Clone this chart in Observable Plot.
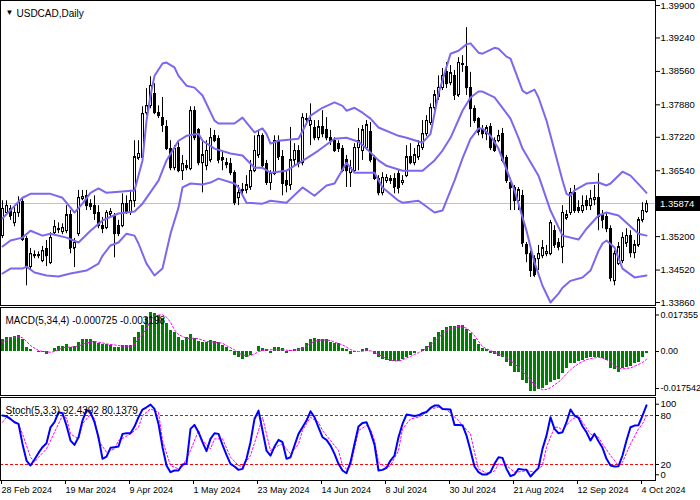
<!DOCTYPE html>
<html><head><meta charset="utf-8">
<script src="https://cdn.jsdelivr.net/npm/d3@7"></script>
<script src="https://cdn.jsdelivr.net/npm/@observablehq/plot@0.6"></script>
<style>
html,body{margin:0;padding:0;background:#fff;}
#chart{position:relative;width:700px;height:500px;overflow:hidden;background:#fff;}
#chart svg{display:block;position:absolute;left:0;}
</style></head><body><div id="chart"></div>
<script>
// ---------- DATA ----------
const symbolTitle = "USDCAD,Daily";
const lastPrice = 1.35874;
const priceTicks = [1.399, 1.3924, 1.3856, 1.3788, 1.3722, 1.3654, 1.352, 1.3452, 1.3386];
const dateIdx = [0,16,32,48,64,80,96,112,128,144,160];
const dateLbl = ["28 Feb 2024","19 Mar 2024","9 Apr 2024","1 May 2024","23 May 2024","14 Jun 2024","8 Jul 2024","30 Jul 2024","21 Aug 2024","12 Sep 2024","4 Oct 2024"];

const open = [1.3522,1.3569,1.3577,1.3548,1.3569,1.3591,1.3516,1.3459,1.3481,1.3481,
1.3471,1.3494,1.3467,1.3528,1.3536,1.3530,1.3532,1.3563,1.3496,1.3526,
1.3597,1.3603,1.3587,1.3583,1.3569,1.3542,1.3538,1.3565,1.3559,1.3542,
1.3542,1.3587,1.3569,1.3593,1.3679,1.3681,1.3772,1.3786,1.3811,1.3772,
1.3762,1.3742,1.3699,1.3660,1.3701,1.3654,1.3664,1.3658,1.3776,1.3736,
1.3670,1.3664,1.3675,1.3725,1.3719,1.3679,1.3670,1.3668,1.3650,1.3599,
1.3612,1.3614,1.3620,1.3654,1.3685,1.3725,1.3668,1.3630,1.3648,1.3715,
1.3681,1.3634,1.3624,1.3675,1.3695,1.3670,1.3760,1.3746,1.3740,1.3721,
1.3742,1.3736,1.3721,1.3715,1.3709,1.3699,1.3675,1.3650,1.3654,1.3701,
1.3695,1.3701,1.3732,1.3679,1.3638,1.3609,1.3634,1.3638,1.3638,1.3648,
1.3630,1.3644,1.3681,1.3670,1.3681,1.3701,1.3729,1.3752,1.3782,1.3803,
1.3823,1.3854,1.3833,1.3847,1.3807,1.3872,1.3864,1.3823,1.3780,1.3760,
1.3736,1.3729,1.3742,1.3715,1.3715,1.3729,1.3679,1.3630,1.3618,1.3593,
1.3603,1.3502,1.3485,1.3475,1.3475,1.3481,1.3485,1.3485,1.3532,1.3506,
1.3498,1.3557,1.3569,1.3609,1.3579,1.3573,1.3593,1.3583,1.3595,1.3599,
1.3563,1.3559,1.3536,1.3430,1.3465,1.3471,1.3506,1.3522,1.3487,1.3502,
1.3553,1.3571];
const high = [1.3593,1.3593,1.3583,1.3579,1.3601,1.3599,1.3520,1.3496,1.3491,1.3489,
1.3500,1.3512,1.3528,1.3553,1.3548,1.3546,1.3583,1.3573,1.3516,1.3614,
1.3614,1.3614,1.3595,1.3603,1.3583,1.3559,1.3573,1.3577,1.3567,1.3553,
1.3607,1.3603,1.3614,1.3715,1.3715,1.3784,1.3821,1.3845,1.3831,1.3786,
1.3803,1.3756,1.3715,1.3705,1.3715,1.3685,1.3675,1.3784,1.3784,1.3740,
1.3715,1.3715,1.3740,1.3736,1.3725,1.3691,1.3679,1.3679,1.3654,1.3624,
1.3628,1.3644,1.3675,1.3725,1.3736,1.3729,1.3675,1.3654,1.3725,1.3725,
1.3695,1.3654,1.3742,1.3709,1.3705,1.3770,1.3770,1.3790,1.3756,1.3756,
1.3776,1.3762,1.3736,1.3721,1.3715,1.3705,1.3685,1.3675,1.3709,1.3740,
1.3746,1.3756,1.3752,1.3685,1.3644,1.3650,1.3646,1.3644,1.3648,1.3654,
1.3644,1.3705,1.3709,1.3699,1.3715,1.3756,1.3766,1.3790,1.3817,1.3847,
1.3862,1.3874,1.3868,1.3858,1.3884,1.3888,1.3945,1.3854,1.3786,1.3762,
1.3746,1.3746,1.3750,1.3721,1.3736,1.3740,1.3685,1.3634,1.3624,1.3620,
1.3614,1.3508,1.3491,1.3481,1.3502,1.3512,1.3502,1.3553,1.3542,1.3516,
1.3583,1.3573,1.3618,1.3624,1.3593,1.3603,1.3603,1.3614,1.3624,1.3648,
1.3573,1.3569,1.3542,1.3491,1.3508,1.3528,1.3536,1.3532,1.3512,1.3559,
1.3589,1.3593];
const low = [1.3516,1.3563,1.3553,1.3540,1.3559,1.3510,1.3420,1.3451,1.3475,1.3475,
1.3467,1.3459,1.3463,1.3522,1.3526,1.3524,1.3526,1.3485,1.3457,1.3520,
1.3593,1.3573,1.3573,1.3553,1.3536,1.3526,1.3534,1.3561,1.3477,1.3520,
1.3538,1.3565,1.3563,1.3579,1.3675,1.3675,1.3766,1.3780,1.3768,1.3760,
1.3732,1.3695,1.3654,1.3654,1.3650,1.3634,1.3654,1.3654,1.3715,1.3664,
1.3609,1.3654,1.3670,1.3711,1.3668,1.3654,1.3658,1.3644,1.3583,1.3583,
1.3601,1.3607,1.3614,1.3650,1.3679,1.3660,1.3624,1.3614,1.3644,1.3675,
1.3603,1.3609,1.3614,1.3664,1.3660,1.3664,1.3746,1.3705,1.3715,1.3715,
1.3721,1.3715,1.3705,1.3691,1.3691,1.3650,1.3620,1.3620,1.3650,1.3654,
1.3675,1.3695,1.3670,1.3634,1.3603,1.3603,1.3628,1.3626,1.3607,1.3607,
1.3624,1.3640,1.3666,1.3664,1.3675,1.3695,1.3723,1.3746,1.3776,1.3797,
1.3817,1.3821,1.3827,1.3797,1.3803,1.3854,1.3807,1.3742,1.3750,1.3725,
1.3719,1.3715,1.3695,1.3691,1.3711,1.3670,1.3628,1.3573,1.3573,1.3573,
1.3498,1.3467,1.3437,1.3437,1.3451,1.3475,1.3479,1.3481,1.3496,1.3491,
1.3465,1.3553,1.3563,1.3567,1.3567,1.3567,1.3573,1.3573,1.3583,1.3532,
1.3536,1.3528,1.3428,1.3420,1.3461,1.3465,1.3498,1.3477,1.3475,1.3498,
1.3548,1.3567];
const close = [1.3577,1.3583,1.3561,1.3569,1.3589,1.3514,1.3459,1.3485,1.3483,1.3482,
1.3491,1.3481,1.3518,1.3540,1.3534,1.3538,1.3563,1.3496,1.3508,1.3599,
1.3601,1.3583,1.3581,1.3567,1.3542,1.3536,1.3569,1.3571,1.3526,1.3526,
1.3587,1.3569,1.3593,1.3681,1.3689,1.3770,1.3786,1.3827,1.3772,1.3766,
1.3746,1.3699,1.3660,1.3699,1.3654,1.3668,1.3660,1.3776,1.3721,1.3670,
1.3685,1.3695,1.3721,1.3715,1.3675,1.3675,1.3666,1.3650,1.3589,1.3609,
1.3614,1.3624,1.3654,1.3695,1.3725,1.3664,1.3630,1.3648,1.3715,1.3681,
1.3628,1.3624,1.3675,1.3695,1.3668,1.3762,1.3758,1.3756,1.3721,1.3742,
1.3729,1.3721,1.3715,1.3695,1.3699,1.3654,1.3654,1.3660,1.3701,1.3715,
1.3736,1.3746,1.3675,1.3638,1.3609,1.3640,1.3640,1.3634,1.3620,1.3618,
1.3634,1.3681,1.3670,1.3685,1.3705,1.3729,1.3756,1.3782,1.3807,1.3823,
1.3847,1.3831,1.3852,1.3807,1.3874,1.3870,1.3823,1.3780,1.3756,1.3732,
1.3729,1.3740,1.3701,1.3695,1.3725,1.3675,1.3634,1.3618,1.3593,1.3614,
1.3506,1.3485,1.3451,1.3441,1.3485,1.3496,1.3489,1.3548,1.3502,1.3498,
1.3569,1.3563,1.3609,1.3573,1.3573,1.3583,1.3583,1.3597,1.3599,1.3559,
1.3553,1.3536,1.3435,1.3485,1.3498,1.3518,1.3522,1.3487,1.3502,1.3553,
1.3573,1.3587];

// Bollinger bands read at selected bars
const upperIdx = [0,5,7,12,15,17,18,20,22,24,26,33,35,36,37,38,40,41,43,44,46,48,50,53,54,58,60,61,63,65,66,67,69,74,77,80,83,85,86,88,90,92,94,99,101,105,107,109,112,114,116,117,119,120,123,124,126,127,130,131,133,134,136,138,140,141,142,143,146,149,151,152,155,157,160,161];
const upperVal = [1.3557,1.3599,1.3607,1.3607,1.3599,1.3579,1.3569,1.3587,1.3609,1.3618,1.3609,1.3614,1.3675,1.3756,1.3807,1.3847,1.3872,1.3874,1.3864,1.3847,1.3827,1.3823,1.3807,1.3756,1.3750,1.3750,1.3762,1.3752,1.3732,1.3740,1.3729,1.3709,1.3715,1.3719,1.3766,1.3782,1.3793,1.3786,1.3776,1.3782,1.3772,1.3760,1.3742,1.3725,1.3721,1.3711,1.3729,1.3811,1.3892,1.3898,1.3911,1.3913,1.3894,1.3892,1.3904,1.3902,1.3886,1.3882,1.3817,1.3811,1.3819,1.3803,1.3756,1.3695,1.3634,1.3607,1.3603,1.3614,1.3628,1.3630,1.3624,1.3628,1.3652,1.3644,1.3618,1.3609];
const midIdx = [0,2,5,7,10,12,16,19,22,25,29,33,35,39,41,44,46,49,50,53,57,60,63,65,67,71,76,79,83,86,89,91,94,96,100,105,108,110,112,115,117,119,120,123,125,127,129,130,134,137,140,144,146,149,151,154,156,159,161];
const midVal = [1.3500,1.3512,1.3518,1.3532,1.3522,1.3526,1.3518,1.3508,1.3532,1.3553,1.3567,1.3571,1.3587,1.3634,1.3675,1.3715,1.3725,1.3729,1.3715,1.3699,1.3689,1.3685,1.3660,1.3660,1.3650,1.3654,1.3679,1.3695,1.3719,1.3721,1.3713,1.3699,1.3675,1.3664,1.3654,1.3654,1.3675,1.3695,1.3721,1.3776,1.3803,1.3815,1.3815,1.3803,1.3782,1.3760,1.3721,1.3699,1.3644,1.3573,1.3522,1.3514,1.3536,1.3563,1.3569,1.3563,1.3548,1.3526,1.3522];
const lowIdx = [0,2,5,6,8,11,14,17,21,24,25,27,29,31,33,34,36,38,40,42,44,45,47,50,52,54,58,59,61,65,67,71,75,78,81,83,86,88,93,95,99,100,104,108,110,113,115,117,119,120,122,124,128,131,133,135,137,139,140,142,145,147,149,150,151,153,155,158,161];
const lowVal = [1.3445,1.3455,1.3455,1.3459,1.3447,1.3441,1.3439,1.3445,1.3451,1.3465,1.3481,1.3502,1.3508,1.3526,1.3522,1.3506,1.3465,1.3441,1.3455,1.3526,1.3579,1.3620,1.3628,1.3626,1.3630,1.3638,1.3628,1.3620,1.3589,1.3587,1.3593,1.3589,1.3620,1.3603,1.3624,1.3628,1.3670,1.3650,1.3650,1.3620,1.3593,1.3589,1.3593,1.3569,1.3573,1.3634,1.3679,1.3719,1.3740,1.3740,1.3725,1.3699,1.3614,1.3532,1.3467,1.3420,1.3386,1.3404,1.3416,1.3430,1.3437,1.3451,1.3491,1.3506,1.3512,1.3498,1.3455,1.3437,1.3441];

// MACD(5,34,4)
const macdTitle = "MACD(5,34,4) -0.000725 -0.003198";
const macdHist = [0.0048,0.0056,0.0056,0.0061,0.0065,0.0048,0.0018,0.0008,0.0001,-0.0004,
-0.0003,-0.0012,0.0001,0.0011,0.0020,0.0020,0.0029,0.0018,0.0020,0.0038,
0.0048,0.0048,0.0048,0.0042,0.0031,0.0029,0.0029,0.0024,0.0018,0.0018,
0.0024,0.0024,0.0024,0.0056,0.0076,0.0106,0.0140,0.0158,0.0154,0.0147,
0.0133,0.0113,0.0086,0.0079,0.0056,0.0045,0.0056,0.0068,0.0054,0.0042,
0.0038,0.0038,0.0045,0.0042,0.0035,0.0024,0.0018,0.0004,-0.0016,-0.0023,
-0.0031,-0.0023,-0.0016,0.0000,0.0020,0.0011,0.0007,-0.0007,0.0018,0.0018,
0.0011,-0.0010,0.0004,0.0007,0.0011,0.0018,0.0034,0.0050,0.0053,0.0048,
0.0048,0.0048,0.0038,0.0031,0.0031,0.0014,0.0008,-0.0012,-0.0003,0.0001,
0.0008,0.0011,0.0001,-0.0012,-0.0023,-0.0033,-0.0037,-0.0039,-0.0041,-0.0041,
-0.0034,-0.0023,-0.0016,-0.0010,0.0001,0.0008,0.0020,0.0038,0.0056,0.0076,
0.0086,0.0099,0.0102,0.0102,0.0106,0.0106,0.0090,0.0075,0.0048,0.0027,
0.0011,0.0007,-0.0007,-0.0012,-0.0020,-0.0023,-0.0044,-0.0061,-0.0084,-0.0084,
-0.0118,-0.0132,-0.0162,-0.0162,-0.0156,-0.0152,-0.0139,-0.0125,-0.0118,-0.0114,
-0.0091,-0.0071,-0.0050,-0.0048,-0.0041,-0.0037,-0.0030,-0.0026,-0.0026,-0.0026,
-0.0027,-0.0037,-0.0071,-0.0075,-0.0084,-0.0071,-0.0067,-0.0061,-0.0050,-0.0044,
-0.0026,-0.0007];
const macdSigIdx = [0,2,4,5,6,7,9,10,11,12,13,14,15,16,17,19,20,21,23,25,26,28,30,32,33,34,36,37,38,40,41,42,43,44,46,48,49,51,53,55,56,58,59,61,62,63,64,66,68,70,72,74,75,76,78,80,82,83,85,86,87,
88,89,90,91,92,93,94,95,96,97,98,99,100,101,102,103,104,105,106,107,108,109,110,111,112,113,114,115,116,117,118,119,120,121,122,123,124,125,126,127,128,129,130,131,132,133,134,135,136,137,138,139,140,141,142,143,144,145,146,147,148,149,150,151,152,153,154,155,156,157,158,159,160,161];
const macdSigVal = [0.0038,0.0056,0.0061,0.0056,0.0041,0.0024,0.0004,0.0000,-0.0001,-0.0003,0.0000,0.0007,0.0015,0.0018,0.0018,0.0022,0.0029,0.0035,0.0041,0.0035,0.0031,0.0027,0.0022,0.0022,0.0029,0.0052,0.0092,0.0129,0.0147,0.0150,0.0140,0.0120,0.0088,0.0069,0.0054,0.0054,0.0052,0.0041,0.0038,0.0034,0.0024,0.0007,-0.0007,-0.0020,-0.0016,-0.0010,0.0000,0.0007,0.0007,0.0007,0.0004,0.0007,0.0014,0.0024,0.0042,0.0048,0.0045,0.0038,0.0027,0.0018,0.0008,
0.0001,0.0000,0.0001,0.0004,0.0003,-0.0003,-0.0012,-0.0020,-0.0030,-0.0035,
-0.0038,-0.0039,-0.0034,-0.0026,-0.0020,-0.0012,-0.0005,0.0003,0.0014,0.0027,
0.0041,0.0056,0.0072,0.0086,0.0092,0.0097,0.0102,0.0101,0.0095,0.0083,
0.0065,0.0042,0.0020,0.0011,0.0004,-0.0003,-0.0010,-0.0016,-0.0026,-0.0037,
-0.0050,-0.0064,-0.0080,-0.0098,-0.0118,-0.0135,-0.0148,-0.0156,-0.0155,-0.0148,
-0.0136,-0.0125,-0.0109,-0.0091,-0.0075,-0.0061,-0.0050,-0.0041,-0.0033,-0.0029,
-0.0026,-0.0024,-0.0027,-0.0033,-0.0044,-0.0057,-0.0068,-0.0071,-0.0069,-0.0067,
-0.0060,-0.0053,-0.0045,-0.0032];
const macdMax = 0.017355, macdMin = -0.017542;

// Stochastic(5,3,3)
const stochTitle = "Stoch(5,3,3) 92.4392 80.1379";
const stochMain = [80,79,75.8,71.8,69.7,45.2,24.8,18.7,26.1,34.2,
41.2,46.1,65.6,71.8,84.0,82.8,67.7,49.3,44.0,53.4,
73.8,86.9,84.0,71.8,53.4,26.9,29.7,40.4,41.2,42.0,
57.5,58.3,58.3,66.5,77.9,87.3,90.1,93.4,88.1,69.7,
41.2,18.7,10.6,12.6,12.6,20.0,20.8,63.6,68.5,59.5,
47.3,36.3,51.4,58.3,57.5,44.0,31.8,20.8,17.5,13.4,
14.6,26.9,47.3,75.8,86.0,61.6,37.1,30.9,41.9,50.1,
47.3,26.9,28.9,43.2,57.5,65.6,73.8,85.2,77.9,65.6,
53.4,50.1,43.2,33.0,20.8,12.6,9.3,22.8,45.2,66.5,
70.9,71.8,59.5,44.4,12.6,13.4,15.9,24.8,31.0,53.4,
69.7,81.2,80.3,79.5,80.3,82.8,84.4,89.3,92.2,92.2,
88.1,87.7,87.3,68.5,68.5,68.1,55.4,37.1,17.5,10.6,
7.7,7.7,10.6,20.8,28.9,28.1,14.6,5.7,7.7,14.6,
13.8,13.4,5.3,10.6,15.9,39.1,55.4,77.9,63.6,58.3,
59.5,71.8,87.3,79.9,77.1,66.9,59.5,49.3,57.5,48.5,
40.4,26.9,18.7,17.5,17.9,31.0,49.3,65.6,67.7,68.1,
79.9,92.44];
const stochSigIdx = [0,1,4,5,7,8,9,11,13,15,16,17,19,20,22,23,24,26,28,29,32,34,35,37,39,40,42,44,45,47,49,50,52,53,55,57,59,60,62,64,65,66,67,69,70,72,74,75,77,79,80,82,84,85,86,87,88,89,91,92,93,94,96,97,99,100,102,104,105,107,109,111,114,115,117,118,119,121,123,124,126,128,130,131,133,135,136,138,139,140,142,144,145,147,149,150,152,154,155,157,159,160,161];
const stochSigVal = [71.7,77.9,69.7,57.4,28.9,22.8,28.9,39.1,59.5,79.9,77.1,57.4,51.4,69.7,81.9,75.8,49.3,35.0,39.1,49.3,57.4,65.6,79.9,88.1,84.0,49.3,18.7,14.6,17.5,37.1,61.6,49.3,39.1,51.4,51.4,28.9,18.7,17.5,31.0,61.6,77.9,57.4,37.1,43.2,45.2,33.0,45.2,61.6,77.9,71.7,61.6,49.3,37.1,18.7,14.6,17.5,39.1,61.6,67.7,63.6,49.3,22.8,15.9,18.7,37.1,63.6,75.8,77.9,80.7,88.1,90.1,87.3,73.8,67.7,57.4,35.0,14.6,9.3,11.8,20.8,18.7,10.6,11.4,12.6,10.6,18.7,41.2,65.6,65.6,61.6,73.8,79.9,71.7,57.4,53.4,45.2,31.0,18.7,22.8,45.2,63.6,69.7,80.14];
const stochLevels = [20, 80];

// ---------- BUILD ----------
const FONT = "'Liberation Sans', Arial, sans-serif";
const bars = close.map((c, i) => ({i, o: open[i], h: high[i], l: low[i], c}));
const pairs = (ix, vs) => ix.map((i, k) => ({i, v: vs[k]}));
const upperBand = pairs(upperIdx, upperVal), midBand = pairs(midIdx, midVal), lowBand = pairs(lowIdx, lowVal);
const macdData = macdHist.map((v, i) => ({i, v}));
const macdSig = pairs(macdSigIdx, macdSigVal);
const stMain = stochMain.map((v, i) => ({i, v}));
const stSig = pairs(stochSigIdx, stochSigVal);

const X = {domain: [-0.5, 163.25], range: [0, 655]};
const style = {fontFamily: FONT, fontSize: "10px", color: "black", background: "transparent", overflow: "visible"};
const bandColor = "#7b68ee";
const HW = 0.25;
const axR = (ticks, fmt, dy, fs) => Plot.axisY(ticks, {anchor: "right", tickSize: 3, tickPadding: 2, tickFormat: fmt, dy, label: null, fontSize: fs});

const main = Plot.plot({
  width: 700, height: 306, marginLeft: 0, marginRight: 45, marginTop: 0, marginBottom: 1,
  style,
  x: {...X, axis: null},
  y: {domain: [1.33799, 1.40002], range: [305, 0]},
  marks: [
    Plot.ruleY([lastPrice], {stroke: "#c0c0c0", strokeWidth: 1}),
    Plot.ruleX(bars, {x: "i", y1: "l", y2: "h", stroke: "black", strokeWidth: 1}),
    Plot.rect(bars, {x1: d => d.i - HW, x2: d => d.i + HW,
      y1: d => Math.min(d.o, d.c), y2: d => Math.max(d.o, d.c),
      fill: d => d.c >= d.o ? "white" : "black", stroke: "black", strokeWidth: 1, shapeRendering: "crispEdges"}),
    Plot.ruleY(bars, {y: "o", x1: d => d.i - HW, x2: d => d.i + HW, stroke: "black"}),
    Plot.ruleY(bars, {y: "c", x1: d => d.i - HW, x2: d => d.i + HW, stroke: "black"}),
    Plot.line(upperBand, {x: "i", y: "v", stroke: bandColor, strokeWidth: 2}),
    Plot.line(midBand, {x: "i", y: "v", stroke: bandColor, strokeWidth: 2}),
    Plot.line(lowBand, {x: "i", y: "v", stroke: bandColor, strokeWidth: 2}),
    Plot.axisY(priceTicks, {anchor: "right", tickSize: 4, tickPadding: 1, tickFormat: d => d.toFixed(5), label: null, fontSize: 9.5}),
    Plot.frame({stroke: "black"}),
    Plot.text(["\u25BC"], {frameAnchor: "top-left", dx: 5, dy: 9, fontSize: 8, fill: "black"}),
    Plot.text([symbolTitle], {frameAnchor: "top-left", dx: 16, dy: 9, fontSize: 10, fill: "black", textAnchor: "start"})
  ]
});
{
  const yp = Math.round(main.scale("y").apply(lastPrice));
  const s = d3.select(main);
  s.append("rect").attr("x", 656).attr("y", yp - 7).attr("width", 44).attr("height", 15).attr("fill", "black");
  s.append("text").attr("x", 660).attr("y", yp + 0.5).attr("dy", "0.35em").attr("fill", "white")
    .attr("text-anchor", "start").attr("font-size", 9.5).attr("font-family", FONT).text(lastPrice.toFixed(5));
}
main.style.top = "0px";

const macd = Plot.plot({
  width: 700, height: 90, marginLeft: 0, marginRight: 45, marginTop: 1, marginBottom: 1,
  style,
  x: {...X, axis: null},
  y: {domain: [macdMin, macdMax], range: [88, 2.5]},
  marks: [
    Plot.rect(macdData, {x1: d => d.i - 0.375, x2: d => d.i + 0.375, y1: 0, y2: "v", fill: "#008000", shapeRendering: "crispEdges"}),
    Plot.line(macdSig, {x: "i", y: "v", stroke: "#ff00ff", strokeWidth: 1, strokeDasharray: "2,2"}),
    axR([macdMax], () => macdMax.toFixed(6), 6, 9),
    axR([0], () => "0.00", 0, 9),
    axR([macdMin], () => macdMin.toFixed(6), -6, 9),
    Plot.frame({stroke: "black"}),
    Plot.text([macdTitle], {frameAnchor: "top-left", dx: 5, dy: 9, fontSize: 10, fill: "black", textAnchor: "start"})
  ]
});
macd.style.top = "306px";

const stoch = Plot.plot({
  width: 700, height: 104, marginLeft: 0, marginRight: 45, marginTop: 1, marginBottom: 20,
  style,
  x: X,
  y: {domain: [0, 100], range: [84.3, 2.7]},
  marks: [
    Plot.ruleY(stochLevels, {stroke: "#ff0000", strokeDasharray: "3,2", strokeWidth: 1}),
    Plot.line(stSig, {x: "i", y: "v", stroke: "#ff00ff", strokeWidth: 1, strokeDasharray: "2,2"}),
    Plot.line(stMain, {x: "i", y: "v", stroke: "#0000ff", strokeWidth: 2}),
    axR([100], d => String(d), 5, 9.5),
    axR([80, 20], d => String(d), 0, 9.5),
    axR([0], d => String(d), -6, 9.5),
    Plot.axisX(dateIdx, {anchor: "bottom", tickSize: 4, tickPadding: 2, textAnchor: "start", dx: -1,
      tickFormat: d => dateLbl[dateIdx.indexOf(d)], label: null, fontSize: 9}),
    Plot.frame({stroke: "black"}),
    Plot.text([stochTitle], {frameAnchor: "top-left", dx: 5, dy: 9, fontSize: 10, fill: "black", textAnchor: "start"})
  ]
});
stoch.style.top = "396px";

const root = document.getElementById("chart");
root.append(main, macd, stoch);
</script></body></html>
